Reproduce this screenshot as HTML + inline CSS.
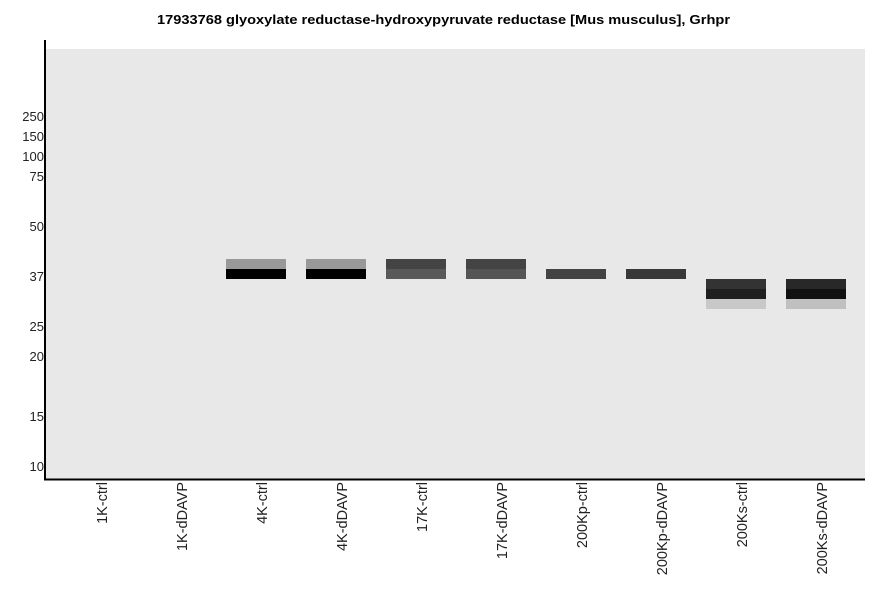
<!DOCTYPE html>
<html><head><meta charset="utf-8"><style>body{margin:0;background:#fff}</style></head><body>
<svg width="886" height="595" xmlns="http://www.w3.org/2000/svg" font-family="Liberation Sans, sans-serif">
<rect width="886" height="595" fill="#fff"/>
<text x="157" y="24" font-size="13" font-weight="bold" textLength="573" lengthAdjust="spacingAndGlyphs">17933768 glyoxylate reductase-hydroxypyruvate reductase [Mus musculus], Grhpr</text>
<rect x="46" y="49" width="819" height="430" fill="#e8e8e8"/>
<line x1="45" y1="40" x2="45" y2="480" stroke="#000" stroke-width="2"/>
<line x1="44" y1="479.5" x2="865" y2="479.5" stroke="#000" stroke-width="2"/>
<g font-size="13" text-anchor="end" fill="#222">
<text x="44" y="121">250</text><text x="44" y="141">150</text><text x="44" y="161">100</text><text x="44" y="181">75</text>
<text x="44" y="231">50</text><text x="44" y="281">37</text><text x="44" y="331">25</text><text x="44" y="361">20</text>
<text x="44" y="421">15</text><text x="44" y="471">10</text>
</g>
<rect x="226" y="259" width="60" height="10" fill="#999"/><rect x="226" y="269" width="60" height="10" fill="#000"/>
<rect x="306" y="259" width="60" height="10" fill="#999"/><rect x="306" y="269" width="60" height="10" fill="#000"/>
<rect x="386" y="259" width="60" height="10" fill="#444"/><rect x="386" y="269" width="60" height="10" fill="#595959"/>
<rect x="466" y="259" width="60" height="10" fill="#444"/><rect x="466" y="269" width="60" height="10" fill="#555"/>
<rect x="546" y="269" width="60" height="10" fill="#434343"/>
<rect x="626" y="269" width="60" height="10" fill="#383838"/>
<rect x="706" y="279" width="60" height="10" fill="#333"/><rect x="706" y="289" width="60" height="10" fill="#1f1f1f"/><rect x="706" y="299" width="60" height="10" fill="#c8c8c8"/>
<rect x="786" y="279" width="60" height="10" fill="#282828"/><rect x="786" y="289" width="60" height="10" fill="#111"/><rect x="786" y="299" width="60" height="10" fill="#c0c0c0"/>
<g font-size="14.5" text-anchor="end" fill="#222">
<text transform="translate(107,482) rotate(-90)">1K-ctrl</text>
<text transform="translate(187,482) rotate(-90)">1K-dDAVP</text>
<text transform="translate(267,482) rotate(-90)">4K-ctrl</text>
<text transform="translate(347,482) rotate(-90)">4K-dDAVP</text>
<text transform="translate(427,482) rotate(-90)">17K-ctrl</text>
<text transform="translate(507,482) rotate(-90)">17K-dDAVP</text>
<text transform="translate(587,482) rotate(-90)">200Kp-ctrl</text>
<text transform="translate(667,482) rotate(-90)">200Kp-dDAVP</text>
<text transform="translate(747,482) rotate(-90)">200Ks-ctrl</text>
<text transform="translate(827,482) rotate(-90)">200Ks-dDAVP</text>
</g>
</svg>
</body></html>
